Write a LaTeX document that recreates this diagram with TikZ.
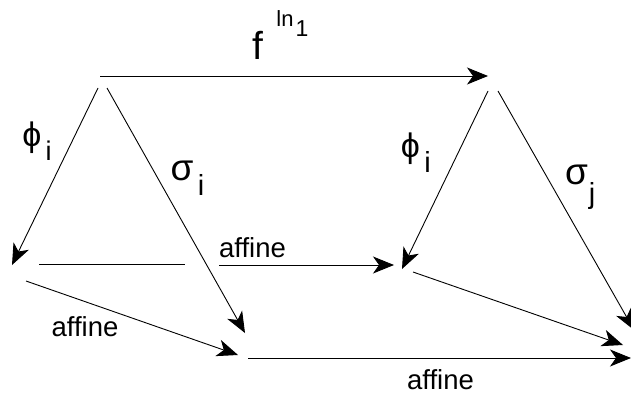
\documentclass[tikz,border=0pt]{standalone}
\usepackage{fontspec}
\setmainfont{Liberation Sans}
\usetikzlibrary{arrows.meta}
\newcommand{\fsz}[1]{\fontsize{#1}{#1}\selectfont}
\tikzset{
  marr/.style={-{Stealth[length=21pt, width=17pt, inset=6pt]}, line width=0.9pt},
  mlin/.style={line width=0.9pt},
  lab/.style={inner sep=0pt, anchor=center},
}

\begin{document}
\begin{tikzpicture}[x=1pt, y=-1pt]
\useasboundingbox (0,0) rectangle (631,396);
% end points of the arrows
\coordinate (top-s) at (100,76);
\coordinate (top-e) at (488,76);
\coordinate (lphi-s) at (98,88);
\coordinate (lphi-e) at (12,265);
\coordinate (lsig-s) at (107,88);
\coordinate (lsig-e) at (245,333);
\coordinate (rphi-s) at (488,91);
\coordinate (rphi-e) at (402,269);
\coordinate (rsig-s) at (498,91);
\coordinate (rsig-e) at (634,330);
\coordinate (mid-s) at (39,264);
\coordinate (mid-g1) at (185,264);
\coordinate (mid-g2) at (219,265);
\coordinate (mid-e) at (394,265);
\coordinate (bl-s) at (26,281);
\coordinate (bl-e) at (238,355);
\coordinate (rm-s) at (413,272);
\coordinate (rm-e) at (623,345);
\coordinate (bot-s) at (248,358);
\coordinate (bot-e) at (631,358);

\draw[marr] (top-s) -- (top-e);
\draw[marr] (lphi-s) -- (lphi-e);
\draw[marr] (lsig-s) -- (lsig-e);
\draw[marr] (rphi-s) -- (rphi-e);
\draw[marr] (rsig-s) -- (rsig-e);
\draw[mlin] (mid-s) -- (mid-g1);
\draw[marr] (mid-g2) -- (mid-e);
\draw[marr] (bl-s) -- (bl-e);
\draw[marr] (rm-s) -- (rm-e);
\draw[marr] (bot-s) -- (bot-e);

% labels
\node[lab, font=\fsz{39}] (f) at (257.5,45.5) {f};
\node[lab, font=\fsz{22}] (ln) at (285,19) {ln};
\node[lab, font=\fsz{23}] (one) at (302,28.5) {1};
\node[lab, font=\fsz{34}] (lphi) at (32,137.5) {ϕ};
\node[lab, font=\fsz{27}] (lphii) at (48.5,151) {i};
\node[lab, font=\fsz{37}] (lsig) at (182,170.5) {σ};
\node[lab, font=\fsz{29}] (lsigi) at (201,185) {i};
\node[lab, font=\fsz{34}] (rphi) at (410.5,149) {ϕ};
\node[lab, font=\fsz{29}] (rphii) at (427.5,162) {i};
\node[lab, font=\fsz{37}] (rsig) at (576.5,175) {σ};
\node[lab, font=\fsz{29}] (rsigj) at (592,195.5) {j};
\node[lab, font=\fsz{27.5}] (aff1) at (252.5,248) {affine};
\node[lab, font=\fsz{27.5}] (aff2) at (85,326.5) {affine};
\node[lab, font=\fsz{27.5}] (aff3) at (440.5,380) {affine};
\end{tikzpicture}
\end{document}
